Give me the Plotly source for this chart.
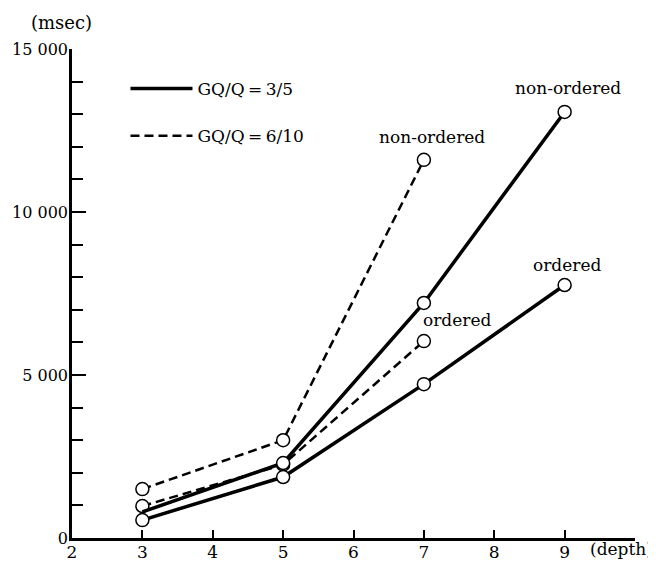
import plotly.graph_objects as go

depth_solid = [3, 5, 7, 9]
solid_nonordered = [800, 2300, 7210, 13070]
solid_ordered = [550, 1870, 4720, 7760]

depth_dashed = [3, 5, 7]
dashed_nonordered = [1500, 3000, 11600]
dashed_ordered = [980, 2250, 6040]

legend_solid = "GQ/Q\u2009=\u20093/5"
legend_dashed = "GQ/Q\u2009=\u20096/10"

x_ticks = [2, 3, 4, 5, 6, 7, 8, 9, 10]
x_ticktext = ["2", "3", "4", "5", "6", "7", "8", "9", ""]
y_ticks = [0, 5000, 10000, 15000]
y_ticktext = ["0", "5 000", "10 000", "15 000"]

FONT = "DejaVu Serif"

fig = go.Figure()

marker_style = dict(symbol="circle", color="white", line=dict(color="black", width=1.5))

def add_series(x, y, dash, width, sizes):
    fig.add_trace(go.Scatter(
        x=x, y=y, mode="lines+markers",
        line=dict(color="black", width=width, dash=dash),
        marker=dict(size=sizes, opacity=1, **marker_style),
        showlegend=False, hoverinfo="skip", cliponaxis=False))

add_series(depth_dashed, dashed_nonordered, "9px,5px", 2.5, [13, 13, 13])
add_series(depth_dashed, dashed_ordered, "9px,5px", 2.5, [13, 13, 13])
add_series(depth_solid, solid_ordered, "solid", 3.5, [13, 13, 13, 13])
add_series(depth_solid, solid_nonordered, "solid", 3.5, [0, 13, 13, 13])

# legend-only traces
fig.add_trace(go.Scatter(x=[None], y=[None], mode="lines", name=legend_solid,
                         legendgroup="a",
                         line=dict(color="black", width=3.5)))
fig.add_trace(go.Scatter(x=[None], y=[None], mode="lines", name=legend_dashed,
                         legendgroup="b",
                         line=dict(color="black", width=2.5, dash="9px,5px")))

annots = [
    dict(x=7.12, y=12300, text="non-ordered"),
    dict(x=9.05, y=13800, text="non-ordered"),
    dict(x=7.47, y=6690, text="ordered"),
    dict(x=9.04, y=8370, text="ordered"),
]
for a in annots:
    fig.add_annotation(x=a["x"], y=a["y"], text=a["text"], showarrow=False,
                       font=dict(family=FONT, size=17, color="black"))

fig.add_annotation(xref="paper", yref="paper", x=-0.018, y=1.0, yshift=27,
                   text="(msec)", showarrow=False, xanchor="center", yanchor="middle",
                   font=dict(family=FONT, size=18, color="black"))
fig.add_annotation(xref="paper", yref="paper", x=1.0355, y=0, yshift=-11,
                   text="(depth)", showarrow=False, xanchor="right", yanchor="middle",
                   font=dict(family=FONT, size=17, color="black"))

fig.update_layout(
    width=648, height=553,
    margin=dict(l=64, r=21, t=41, b=23, autoexpand=False),
    paper_bgcolor="white", plot_bgcolor="white",
    font=dict(family=FONT, size=17, color="black"),
    legend=dict(x=0.095, y=0.955, xanchor="left", yanchor="top",
                bgcolor="rgba(0,0,0,0)", itemwidth=62, tracegroupgap=22,
                font=dict(family=FONT, size=17, color="black")),
    xaxis=dict(range=[2, 10], tickvals=x_ticks, ticktext=x_ticktext,
               ticks="inside", ticklen=8, tickwidth=1.5, tickcolor="black",
               showline=True, linecolor="black", linewidth=2.5,
               showgrid=False, zeroline=False, automargin=False,
               ticklabelstandoff=-3,
               tickfont=dict(family=FONT, size=17)),
    yaxis=dict(range=[0, 15000], tickvals=y_ticks, ticktext=y_ticktext,
               ticks="inside", ticklen=14, tickwidth=2, tickcolor="black",
               minor=dict(dtick=1000, ticks="inside", ticklen=11, tickwidth=2, tickcolor="black"),
               showline=True, linecolor="black", linewidth=2.5,
               showgrid=False, zeroline=False, automargin=False,
               ticklabelstandoff=-2,
               tickfont=dict(family=FONT, size=16)),
)

fig.write_html("out.html")
